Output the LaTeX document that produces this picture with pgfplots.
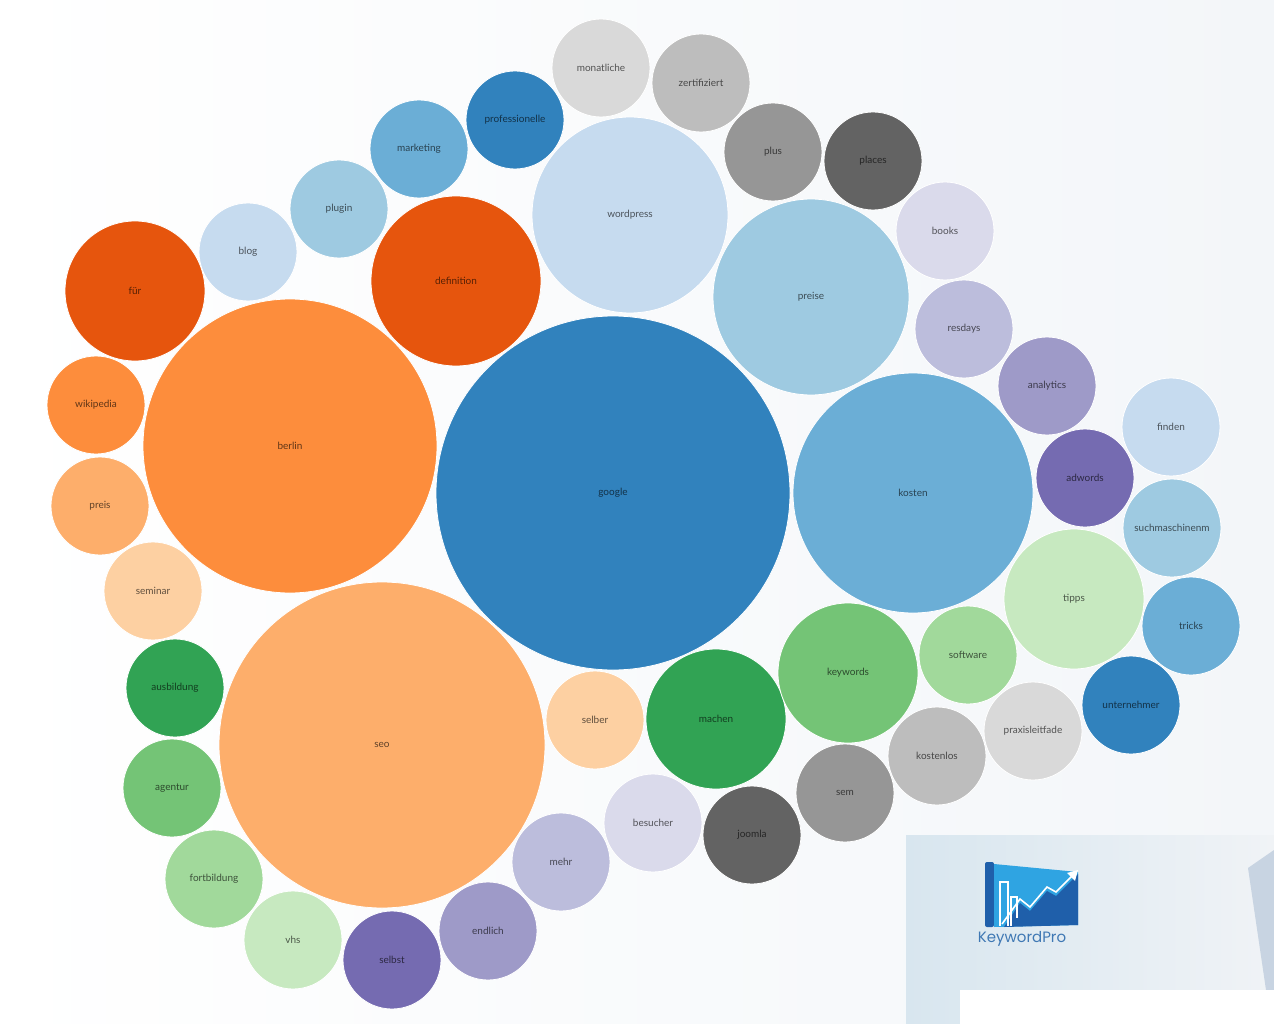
\documentclass[border=0pt]{standalone}
\usepackage{pgfplots}
\pgfplotsset{compat=1.18}
\usepackage{fontspec}
\setmainfont{Lato}
\newfontfamily\logofont{Poppins}
% d3 category20c palette, indices 0..19
\definecolor{bub0}{HTML}{3182BD}
\definecolor{bub1}{HTML}{6BAED6}
\definecolor{bub2}{HTML}{9ECAE1}
\definecolor{bub3}{HTML}{C6DBEF}
\definecolor{bub4}{HTML}{E6550D}
\definecolor{bub5}{HTML}{FD8D3C}
\definecolor{bub6}{HTML}{FDAE6B}
\definecolor{bub7}{HTML}{FDD0A2}
\definecolor{bub8}{HTML}{31A354}
\definecolor{bub9}{HTML}{74C476}
\definecolor{bub10}{HTML}{A1D99B}
\definecolor{bub11}{HTML}{C7E9C0}
\definecolor{bub12}{HTML}{756BB1}
\definecolor{bub13}{HTML}{9E9AC8}
\definecolor{bub14}{HTML}{BCBDDC}
\definecolor{bub15}{HTML}{DADAEB}
\definecolor{bub16}{HTML}{636363}
\definecolor{bub17}{HTML}{969696}
\definecolor{bub18}{HTML}{BDBDBD}
\definecolor{bub19}{HTML}{D9D9D9}
\definecolor{logoDark}{HTML}{1F5FAA}
\definecolor{logoLight}{HTML}{2FA4E2}
\definecolor{logoText}{HTML}{3F78B4}
\definecolor{bgR}{HTML}{F3F6F9}
\definecolor{panelL}{HTML}{D8E6EF}
\definecolor{panelR}{HTML}{F0F3F6}
\definecolor{panelShape}{HTML}{C8D4E2}
\pgfplotstableread{
x y rad ci label
613 493 177 0 google
290 446 147 5 berlin
382 745 163 6 seo
913 493 120 1 kosten
630 215 98 3 wordpress
811 297 98 2 preise
456 281 85 4 definition
135 291 70 4 für
716 719 70 8 machen
848 673 70 9 keywords
1074 599 70 11 tipps
96 405 49 5 wikipedia
100 506 49 6 preis
153 591 49 7 seminar
175 688 49 8 ausbildung
172 788 49 9 agentur
214 879 49 10 fortbildung
293 940 49 11 vhs
392 960 49 12 selbst
488 931 49 13 endlich
561 862 49 14 mehr
653 823 49 15 besucher
752 835 49 16 joomla
595 720 49 7 selber
845 793 49 17 sem
937 756 49 18 kostenlos
1033 731 49 19 praxisleitfade
968 655 49 10 software
1131 705 49 0 unternehmer
1191 626 49 1 tricks
1172 528 49 2 suchmaschinenm
1171 427 49 3 finden
1085 478 49 12 adwords
1047 386 49 13 analytics
964 329 49 14 resdays
945 231 49 15 books
873 161 49 16 places
773 152 49 17 plus
701 83 49 18 zertifiziert
601 68 49 19 monatliche
515 120 49 0 professionelle
419 149 49 1 marketing
339 209 49 2 plugin
248 252 49 3 blog
}\bubbles
\begin{document}
\begin{tikzpicture}
\begin{axis}[
  width=1274pt, height=1024pt, scale only axis,
  xmin=0, xmax=1274, ymin=0, ymax=1024, y dir=reverse,
  hide axis, clip=true,
]
\fill[left color=white, right color=bgR]
  (rel axis cs:0,0) rectangle (rel axis cs:1,1);
% bubbles
\addplot[
  scatter, only marks, mark=*,
  point meta=\thisrow{ci},
  visualization depends on={\thisrow{rad} \as \rad},
  visualization depends on={\thisrow{ci} \as \ci},
  scatter/@pre marker code/.code={%
    \pgfmathtruncatemacro\cidx{\ci}%
    \begin{scope}[mark size=\rad pt, fill=bub\cidx, draw=white, line width=0.8pt]},
  scatter/@post marker code/.code={\end{scope}},
] table[x=x, y=y] {\bubbles};
% labels
\addplot[
  only marks, mark=none,
  point meta=explicit symbolic,
  nodes near coords={\pgfplotspointmeta},
  nodes near coords align={anchor=center},
  every node near coord/.append style={anchor=center, inner sep=0pt,
    font=\fontsize{10}{11}\selectfont, text=black, text opacity=0.62},
] table[x=x, y=y, meta=label] {\bubbles};
% logo panel
\fill[left color=panelL, right color=panelR]
  (axis cs:906,835) rectangle (axis cs:1274,1024);
\fill[panelShape] (axis cs:1248,868) -- (axis cs:1274,850) -- (axis cs:1274,990) -- (axis cs:1266,990) -- cycle;
\fill[white] (axis cs:960,990) rectangle (axis cs:1274,1024);
\fill[logoDark, rounded corners=2pt] (axis cs:985,862) rectangle (axis cs:994,927);
\fill[logoLight] (axis cs:994,864) -- (axis cs:1078,872) -- (axis cs:1078,925) -- (axis cs:994,927) -- cycle;
\fill[logoDark] (axis cs:1004,927) -- (axis cs:1020,903) -- (axis cs:1030,911) -- (axis cs:1047,891) -- (axis cs:1056,896) -- (axis cs:1078,874) -- (axis cs:1078,925) -- cycle;
\draw[white, line width=1.2pt] (axis cs:1000,926) -- (axis cs:1000,882) -- (axis cs:1008,882) -- (axis cs:1008,926);
\draw[white, line width=1.2pt] (axis cs:1011,926) -- (axis cs:1011,897) -- (axis cs:1017,897) -- (axis cs:1017,918);
\draw[white, line width=1.6pt] (axis cs:1002,924) -- (axis cs:1020,899) -- (axis cs:1030,907) -- (axis cs:1047,887) -- (axis cs:1056,892) -- (axis cs:1072,876);
\fill[white] (axis cs:1078,870) -- (axis cs:1067,873) -- (axis cs:1075,881) -- cycle;
\node[logoText, font=\logofont\fontsize{15}{16}\selectfont] at (axis cs:1022,939) {KeywordPro};
\end{axis}
\end{tikzpicture}
\end{document}
